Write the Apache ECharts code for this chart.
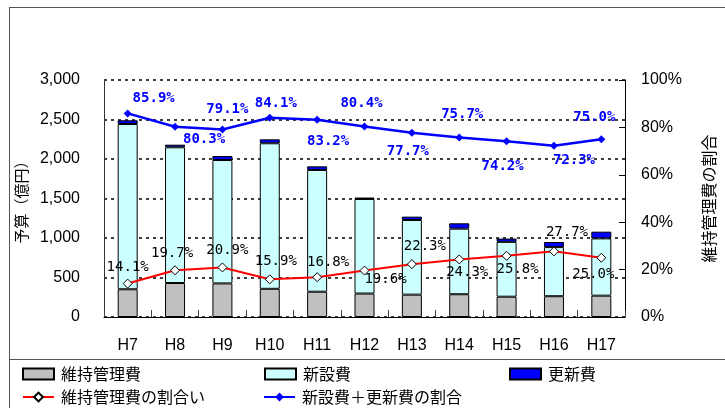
<!DOCTYPE html>
<html><head><meta charset="utf-8">
<script src="https://cdn.jsdelivr.net/npm/echarts@6/dist/echarts.min.js"></script>
<style>html,body{margin:0;padding:0;background:#fff}#c{width:725px;height:408px}</style>
</head><body><div id="c"></div>
<script>
const categories = ['H7','H8','H9','H10','H11','H12','H13','H14','H15','H16','H17'];
const maintenance = [351, 430, 425, 357, 320, 297, 283, 288, 257, 263, 270];
const newBuild    = [2092, 1718, 1562, 1842, 1541, 1197, 945, 830, 694, 622, 725];
const renewal     = [47, 33, 51, 50, 46, 18, 42, 68, 42, 64, 85];
const maintRatio     = [14.1, 19.7, 20.9, 15.9, 16.8, 19.6, 22.3, 24.3, 25.8, 27.7, 25.0];
const newRenewRatio  = [85.9, 80.3, 79.1, 84.1, 83.2, 80.4, 77.7, 75.7, 74.2, 72.3, 75.0];
const leftTicks = {min: 0, max: 3000, interval: 500};
const rightTicks = {min: 0, max: 100, interval: 20};

// label placement (style only)
const blueOffsets = [[26,-15],[29,13],[5,-20],[6,-14],[11,22],[-3,-23],[-4,19],[3,-23],[-4,25],[20,15],[-7,-22]];
const redOffsets  = [[0,-16],[-3,-17],[5,-17],[6,-18],[11,-15],[21,9],[13,-18],[8,13],[11,14],[13,-19],[-8,17]];

const chart = echarts.init(document.getElementById('c'));
const axisFont = {fontFamily: 'Liberation Sans', fontSize: 16, color: '#000'};
const cjk = 'Noto Sans CJK JP';
const monoLabel = {fontFamily: 'DejaVu Sans Mono', fontSize: 14};

function legend(name, left, top, icon) {
  const l = {data: [icon ? {name: name, icon: icon} : name], left: left, top: top, padding: 0,
    itemWidth: 31, itemHeight: 11, selectedMode: false,
    textStyle: {fontFamily: cjk, fontSize: 16, color: '#000', padding: [0,0,0,2]}};
  return l;
}

chart.setOption({
  animation: false,
  backgroundColor: '#fff',
  grid: {left: 104, right: 96, top: 80, bottom: 91, containLabel: false},
  graphic: [
    {type: 'line', shape: {x1: 9, y1: 7.5, x2: 725, y2: 7.5}, style: {stroke: '#555', lineWidth: 1}},
    {type: 'line', shape: {x1: 9.5, y1: 7, x2: 9.5, y2: 408}, style: {stroke: '#555', lineWidth: 1}},
    {type: 'line', shape: {x1: 9, y1: 359.5, x2: 725, y2: 359.5}, style: {stroke: '#555', lineWidth: 1}}
  ],
  legend: [
    legend('維持管理費', 22, 366, 'rect'),
    legend('新設費', 264, 366, 'rect'),
    legend('更新費', 509, 366, 'rect'),
    legend('維持管理費の割合い', 22, 389),
    legend('新設費＋更新費の割合', 263, 389)
  ],
  xAxis: {
    type: 'category', data: categories,
    axisLine: {lineStyle: {color: '#000', width: 1}},
    axisTick: {show: true, inside: true, length: 7, lineStyle: {color: '#444'}},
    axisLabel: Object.assign({margin: 21}, axisFont)
  },
  yAxis: [
    {
      type: 'value', min: leftTicks.min, max: leftTicks.max, interval: leftTicks.interval,
      name: '予算（億円）', nameLocation: 'middle', nameGap: 72, nameRotate: 90,
      nameTextStyle: {fontFamily: cjk, fontSize: 15, color: '#000'},
      axisLine: {show: true, lineStyle: {color: '#333'}},
      axisTick: {show: false},
      axisLabel: Object.assign({margin: 24, formatter: v => v.toLocaleString('en-US')}, axisFont),
      splitLine: {show: true, lineStyle: {color: '#000', type: [3, 4], width: 1.5}}
    },
    {
      type: 'value', min: rightTicks.min, max: rightTicks.max, interval: rightTicks.interval,
      name: '維持管理費の割合', nameLocation: 'middle', nameGap: 76, nameRotate: 90,
      nameTextStyle: {fontFamily: cjk, fontSize: 16, color: '#000'},
      axisLine: {show: true, lineStyle: {color: '#000'}},
      axisTick: {show: true, inside: true, length: 6, lineStyle: {color: '#000'}},
      axisLabel: Object.assign({margin: 16, formatter: '{value}%'}, axisFont),
      splitLine: {show: false}
    }
  ],
  series: [
    {name: '維持管理費', type: 'bar', stack: 'total', barWidth: 20, data: maintenance,
     itemStyle: {color: '#C0C0C0', borderColor: '#000', borderWidth: 1}},
    {name: '新設費', type: 'bar', stack: 'total', barWidth: 20, data: newBuild,
     itemStyle: {color: '#CCFFFF', borderColor: '#000', borderWidth: 1}},
    {name: '更新費', type: 'bar', stack: 'total', barWidth: 20, data: renewal,
     itemStyle: {color: '#0000FF', borderColor: '#000', borderWidth: 1}},
    {name: '維持管理費の割合い', type: 'line', yAxisIndex: 1, z: 5,
     data: maintRatio.map((v, i) => ({value: v, label: {offset: redOffsets[i]}})),
     symbol: 'diamond', symbolSize: 9,
     lineStyle: {color: '#FF0000', width: 2},
     itemStyle: {color: '#FFFFFF', borderColor: '#000', borderWidth: 1},
     label: Object.assign({show: true, position: 'inside', color: '#000', formatter: p => p.value.toFixed(1) + '%'}, monoLabel)},
    {name: '新設費＋更新費の割合', type: 'line', yAxisIndex: 1, z: 5,
     data: newRenewRatio.map((v, i) => ({value: v, label: {offset: blueOffsets[i]}})),
     symbol: 'diamond', symbolSize: 8,
     lineStyle: {color: '#0000FF', width: 2.5},
     itemStyle: {color: '#0000FF'},
     label: Object.assign({show: true, position: 'inside', color: '#0000FF', fontWeight: 'bold', formatter: p => p.value.toFixed(1) + '%'}, monoLabel)}
  ]
});
</script></body></html>
